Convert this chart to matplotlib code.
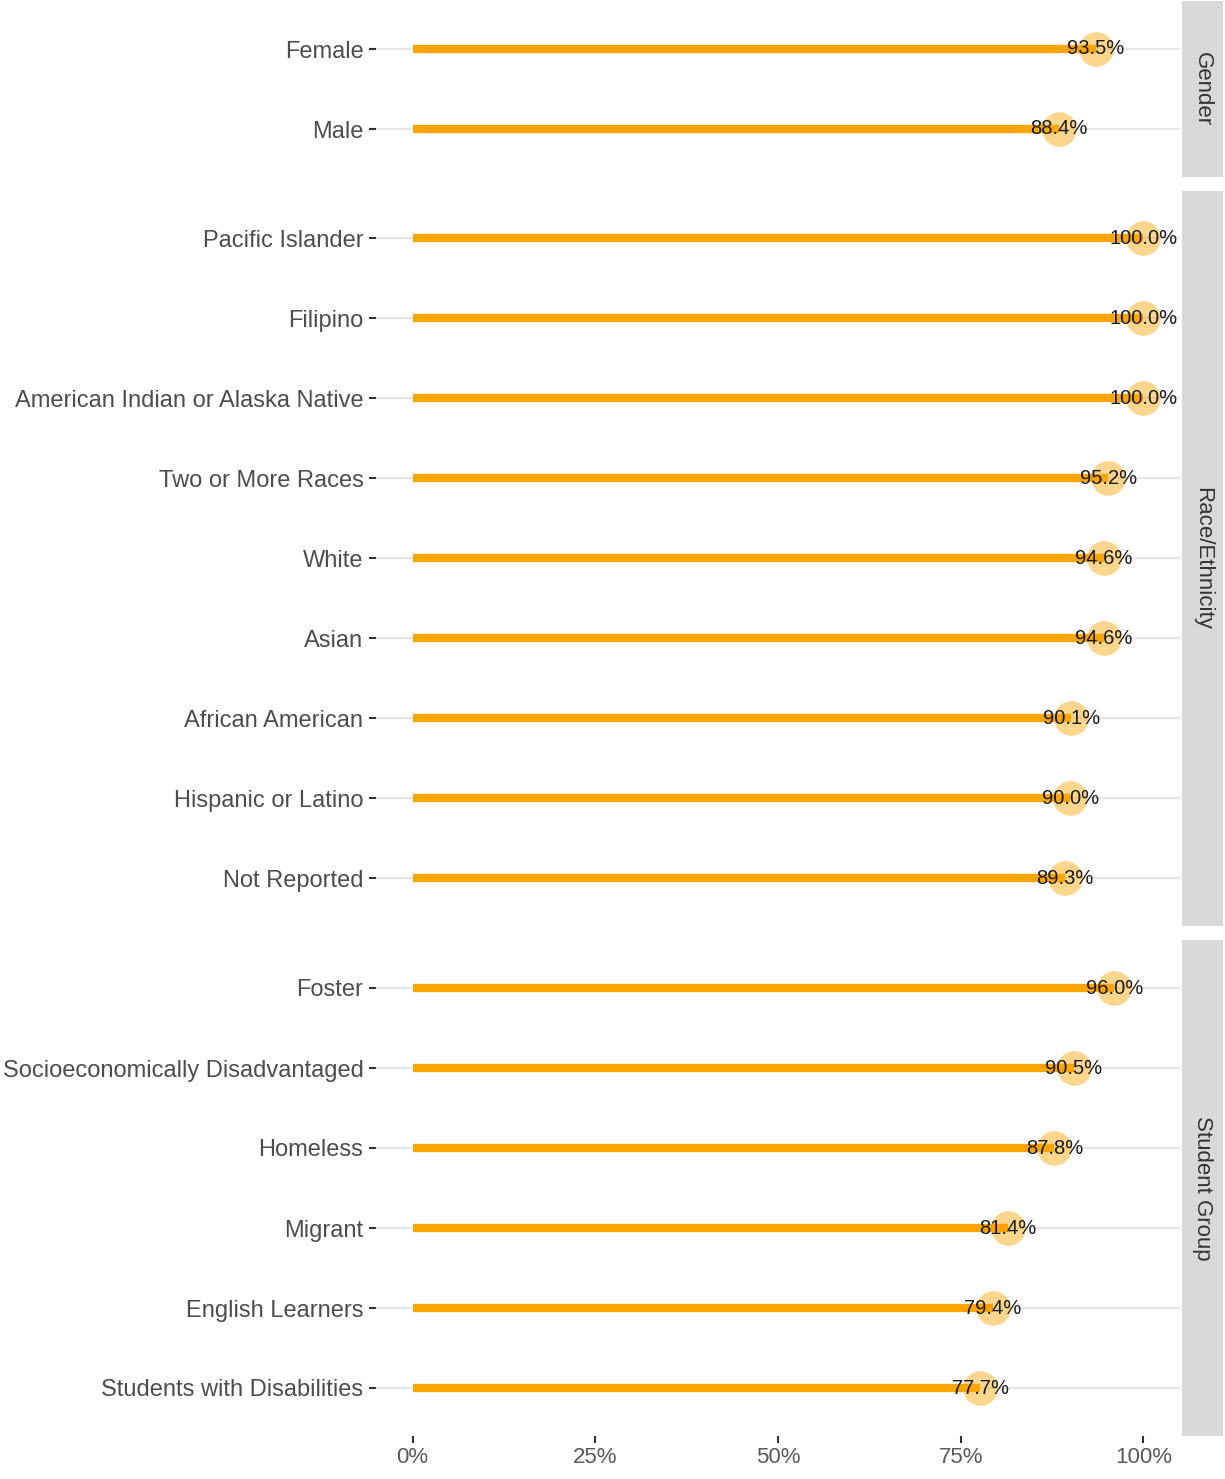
import numpy as np
import matplotlib.pyplot as plt

plt.rcParams['font.family'] = ['Liberation Sans', 'DejaVu Sans']

# Groups (top to bottom within each facet) and percentages
gender = ['Female', 'Male']
gender_pct = [93.5, 88.4]

race = ['Pacific Islander', 'Filipino', 'American Indian or Alaska Native',
        'Two or More Races', 'White', 'Asian', 'African American',
        'Hispanic or Latino', 'Not Reported']
race_pct = [100.0, 100.0, 100.0, 95.2, 94.6, 94.6, 90.1, 90.0, 89.3]

student = ['Foster', 'Socioeconomically Disadvantaged', 'Homeless', 'Migrant',
           'English Learners', 'Students with Disabilities']
student_pct = [96.0, 90.5, 87.8, 81.4, 79.4, 77.7]

facets = [('Gender', gender, gender_pct),
          ('Race/Ethnicity', race, race_pct),
          ('Student Group', student, student_pct)]

xticks = [0, 25, 50, 75, 100]
xticklabels = ['0%', '25%', '50%', '75%', '100%']

W, H = 1225, 1479
fig = plt.figure(figsize=(W / 100, H / 100), dpi=100)

orange = '#F9A602'
row_px = 80
gap_px = 13.5
top_px = 1
left_px, right_px = 376, 1180
strip_l, strip_r = 1182, 1223

y0 = top_px
for i, (name, cats, vals) in enumerate(facets):
    n = len(cats)
    h = (n - 1 + 1.2) * row_px
    ax = fig.add_axes([left_px / W, 1 - (y0 + h) / H,
                       (right_px - left_px) / W, h / H])
    sax = fig.add_axes([strip_l / W, 1 - (y0 + h) / H,
                        (strip_r - strip_l) / W, h / H])
    y0 += h + gap_px

    ypos = np.arange(n)[::-1]
    ax.hlines(ypos, 0, vals, color=orange, lw=6, zorder=2)
    ax.scatter(vals, ypos, s=620, color=orange, alpha=0.45, lw=0, zorder=3)
    for v, yy in zip(vals, ypos):
        ax.text(v, yy, f'{v:.1f}%', ha='center', va='center',
                fontsize=14.5, color='#1a1a1a', zorder=4)

    ax.set_xlim(-5, 105)
    ax.set_ylim(-0.6, n - 0.4)
    ax.set_yticks(ypos)
    ax.set_yticklabels(cats, fontsize=17, color='#4D4D4D')
    ax.grid(axis='y', color='#E6E6E6', lw=1.5, zorder=0)
    ax.set_axisbelow(True)
    for s in ax.spines.values():
        s.set_visible(False)
    ax.tick_params(axis='y', length=5, width=1.5, color='#333333', pad=4)
    if i == len(facets) - 1:
        ax.set_xticks(xticks)
        ax.set_xticklabels(xticklabels, fontsize=16, color='#5A5A5A')
        ax.tick_params(axis='x', length=5, width=1.5, color='#333333', pad=3)
    else:
        ax.set_xticks([])

    sax.set_facecolor('#D9D9D9')
    sax.set_xticks([])
    sax.set_yticks([])
    for s in sax.spines.values():
        s.set_visible(False)
    sax.text(0.5, 0.5, name, rotation=-90, ha='center', va='center',
             fontsize=16, color='#333333', transform=sax.transAxes)

fig.savefig('out.png', dpi=100)
